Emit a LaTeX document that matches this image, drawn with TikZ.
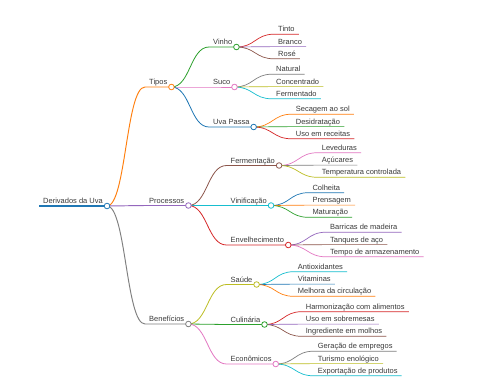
\documentclass[tikz,border=0pt]{standalone}
\usepackage{fontspec}
\setmainfont{Liberation Sans}
\usetikzlibrary{calc}
\definecolor{c0}{HTML}{1F77B4}
\definecolor{c1}{HTML}{FF7F0E}
\definecolor{c2}{HTML}{2CA02C}
\definecolor{c3}{HTML}{D62728}
\definecolor{c4}{HTML}{9467BD}
\definecolor{c5}{HTML}{8C564B}
\definecolor{c6}{HTML}{E377C2}
\definecolor{c7}{HTML}{7F7F7F}
\definecolor{c8}{HTML}{BCBD22}
\definecolor{c9}{HTML}{17BECF}
\definecolor{txt}{HTML}{3A3A3A}
\tikzset{
  mmtext/.style={anchor=south west, inner xsep=4pt, inner ysep=0pt, text height=5.4pt, text depth=2.3pt, font=\fontsize{7.5}{9}\selectfont, text=txt},
  mmdot/.style={circle, fill=white, line width=0.8pt, minimum size=5.6pt, inner sep=0pt},
  lwa/.style={line width=1.2pt},
  lwb/.style={line width=0.95pt},
  lwc/.style={line width=0.8pt},
  lwd/.style={line width=0.7pt},
}
\newcommand\MMedge[4]{%
  \coordinate (mmmid) at ($(#1.south east)!0.5!(#2.south west)$);
  \draw[#3,#4] (#1.south east) .. controls (mmmid |- #1.south east) and (mmmid |- #2.south west) .. (#2.south west) -- (#2.south east);
}
\begin{document}
\begin{tikzpicture}[x=1pt,y=-1pt]
\useasboundingbox[fill=white] (0,0) rectangle (480,384);
% texts
\node[mmtext] (r) at (39,206) {Derivados da Uva};
\node[mmtext] (t) at (145,87) {Tipos};
\node[mmtext] (p) at (145,205.5) {Processos};
\node[mmtext] (b) at (145,324) {Benefícios};
\node[mmtext] (v) at (209,47) {Vinho};
\node[mmtext] (s) at (209,87) {Suco};
\node[mmtext] (u) at (209,127) {Uva Passa};
\node[mmtext] (f) at (226.5,165.5) {Fermentação};
\node[mmtext] (vi) at (226.5,205.5) {Vinificação};
\node[mmtext] (e) at (226.5,245) {Envelhecimento};
\node[mmtext] (sa) at (226.5,284.5) {Saúde};
\node[mmtext] (cu) at (226.5,324.5) {Culinária};
\node[mmtext] (ec) at (226.5,364) {Econômicos};
% leaves
\node[mmtext] (v1) at (274,34.2) {Tinto};
\node[mmtext] (v2) at (274,46.6) {Branco};
\node[mmtext] (v3) at (274,58.8) {Rosé};
\node[mmtext] (s1) at (272,74.2) {Natural};
\node[mmtext] (s2) at (272,86.6) {Concentrado};
\node[mmtext] (s3) at (272,98.8) {Fermentado};
\node[mmtext] (u1) at (291.7,114.2) {Secagem ao sol};
\node[mmtext] (u2) at (291.7,126.6) {Desidratação};
\node[mmtext] (u3) at (291.7,138.8) {Uso em receitas};
\node[mmtext] (f1) at (317.7,152.7) {Leveduras};
\node[mmtext] (f2) at (317.7,165.1) {Açúcares};
\node[mmtext] (f3) at (317.7,177.3) {Temperatura controlada};
\node[mmtext] (vi1) at (308.3,192.7) {Colheita};
\node[mmtext] (vi2) at (308.3,205.1) {Prensagem};
\node[mmtext] (vi3) at (308.3,217.3) {Maturação};
\node[mmtext] (e1) at (326,232.2) {Barricas de madeira};
\node[mmtext] (e2) at (326,244.6) {Tanques de aço};
\node[mmtext] (e3) at (326,256.8) {Tempo de armazenamento};
\node[mmtext] (sa1) at (293.7,271.7) {Antioxidantes};
\node[mmtext] (sa2) at (293.7,284.1) {Vitaminas};
\node[mmtext] (sa3) at (293.7,296.3) {Melhora da circulação};
\node[mmtext] (cu1) at (301.7,311.7) {Harmonização com alimentos};
\node[mmtext] (cu2) at (301.7,324.1) {Uso em sobremesas};
\node[mmtext] (cu3) at (301.7,336.3) {Ingrediente em molhos};
\node[mmtext] (ec1) at (313.7,351.2) {Geração de empregos};
\node[mmtext] (ec2) at (313.7,363.6) {Turismo enológico};
\node[mmtext] (ec3) at (313.7,375.8) {Exportação de produtos};
% root underline
\draw[c0,lwa] (r.south west) -- (r.south east);
% level 1
\MMedge{r}{t}{c1}{lwb}
\MMedge{r}{p}{c4}{lwb}
\MMedge{r}{b}{c7}{lwb}
% level 2
\MMedge{t}{v}{c2}{lwc}
\MMedge{t}{s}{c6}{lwc}
\MMedge{t}{u}{c0}{lwc}
\MMedge{p}{f}{c5}{lwc}
\MMedge{p}{vi}{c9}{lwc}
\MMedge{p}{e}{c3}{lwc}
\MMedge{b}{sa}{c8}{lwc}
\MMedge{b}{cu}{c2}{lwc}
\MMedge{b}{ec}{c6}{lwc}
% leaves
\MMedge{v}{v1}{c3}{lwd}
\MMedge{v}{v2}{c4}{lwd}
\MMedge{v}{v3}{c5}{lwd}
\MMedge{s}{s1}{c7}{lwd}
\MMedge{s}{s2}{c8}{lwd}
\MMedge{s}{s3}{c9}{lwd}
\MMedge{u}{u1}{c1}{lwd}
\MMedge{u}{u2}{c2}{lwd}
\MMedge{u}{u3}{c3}{lwd}
\MMedge{f}{f1}{c6}{lwd}
\MMedge{f}{f2}{c7}{lwd}
\MMedge{f}{f3}{c8}{lwd}
\MMedge{vi}{vi1}{c0}{lwd}
\MMedge{vi}{vi2}{c1}{lwd}
\MMedge{vi}{vi3}{c2}{lwd}
\MMedge{e}{e1}{c4}{lwd}
\MMedge{e}{e2}{c5}{lwd}
\MMedge{e}{e3}{c6}{lwd}
\MMedge{sa}{sa1}{c9}{lwd}
\MMedge{sa}{sa2}{c0}{lwd}
\MMedge{sa}{sa3}{c1}{lwd}
\MMedge{cu}{cu1}{c3}{lwd}
\MMedge{cu}{cu2}{c4}{lwd}
\MMedge{cu}{cu3}{c5}{lwd}
\MMedge{ec}{ec1}{c7}{lwd}
\MMedge{ec}{ec2}{c8}{lwd}
\MMedge{ec}{ec3}{c9}{lwd}
% circles
\node[mmdot,draw=c0] (rc) at (r.south east) {};
\node[mmdot,draw=c1] (tc) at (t.south east) {};
\node[mmdot,draw=c4] (pc) at (p.south east) {};
\node[mmdot,draw=c7] (bc) at (b.south east) {};
\node[mmdot,draw=c2] (vc) at (v.south east) {};
\node[mmdot,draw=c6] (sc) at (s.south east) {};
\node[mmdot,draw=c0] (uc) at (u.south east) {};
\node[mmdot,draw=c5] (fc) at (f.south east) {};
\node[mmdot,draw=c9] (vic) at (vi.south east) {};
\node[mmdot,draw=c3] (ecc) at (e.south east) {};
\node[mmdot,draw=c8] (sac) at (sa.south east) {};
\node[mmdot,draw=c2] (cuc) at (cu.south east) {};
\node[mmdot,draw=c6] (ecoc) at (ec.south east) {};
\end{tikzpicture}
\end{document}
